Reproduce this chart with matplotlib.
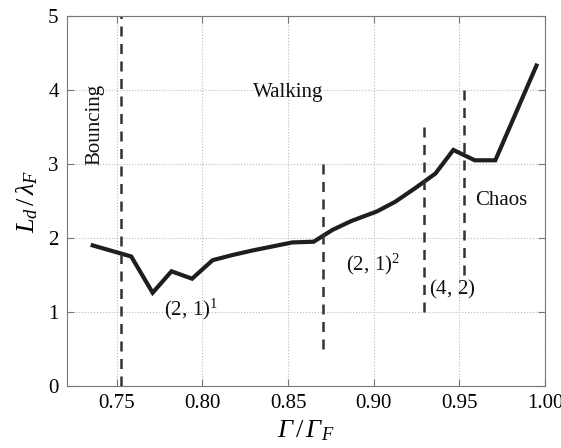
import matplotlib
matplotlib.use("Agg")
import matplotlib.pyplot as plt

plt.rcParams['font.family'] = ['Liberation Serif', 'DejaVu Serif']
plt.rcParams['mathtext.fontset'] = 'custom'
plt.rcParams['mathtext.rm'] = 'Liberation Serif'
plt.rcParams['mathtext.it'] = 'Liberation Serif:italic'
plt.rcParams['mathtext.sf'] = 'Liberation Serif:italic'
plt.rcParams['mathtext.bf'] = 'Liberation Serif:bold'

gamma = [0.736, 0.7585, 0.771, 0.782, 0.794, 0.806, 0.8176, 0.829, 0.8525, 0.865,
         0.876, 0.887, 0.902, 0.9126, 0.924, 0.936, 0.9465, 0.959, 0.971, 0.995]
ld = [1.90, 1.75, 1.26, 1.55, 1.45, 1.70, 1.77, 1.83, 1.94, 1.95,
      2.11, 2.23, 2.36, 2.49, 2.67, 2.87, 3.19, 3.05, 3.05, 4.33]

vline_x = [0.7527, 0.8705, 0.9295, 0.9528]
vline_lo = [0.0, 0.5, 1.0, 1.5]
vline_hi = [5.0, 3.0, 3.5, 4.0]

labels = ['Bouncing', 'Walking', r'$(2,\,1)^1$', r'$(2,\,1)^2$', r'$(4,\,2)$', 'Chaos']
label_x = [0.7372, 0.8295, 0.7779, 0.8837, 0.9325, 0.9595]
label_y = [3.53, 3.97, 1.03, 1.64, 1.30, 2.51]
label_rot = [90, 0, 0, 0, 0, 0]
label_ha = ['center', 'left', 'left', 'left', 'left', 'left']

fig = plt.figure(figsize=(5.61, 4.48), dpi=100)
ax = fig.add_axes([0.1194, 0.1384, 0.8521, 0.8259])

ax.plot(gamma, ld, color='#1e1e1e', lw=3.0, solid_joinstyle='miter')
for x, lo, hi in zip(vline_x, vline_lo, vline_hi):
    ax.plot([x, x], [lo, hi], color='#333333', lw=1.8, ls=(0, (4, 3)))

for t, x, y, r, ha in zip(labels, label_x, label_y, label_rot, label_ha):
    ax.text(x, y, t, rotation=r, ha=ha, va='center', fontsize=15,
            color='#111111')

ax.set_xlim(0.721, 1.0)
ax.set_ylim(0, 5)
ax.set_xticks([0.75, 0.80, 0.85, 0.90, 0.95, 1.00])
ax.set_xticklabels(['0.75', '0.80', '0.85', '0.90', '0.95', '1.00'])
ax.set_yticks([0, 1, 2, 3, 4, 5])
ax.grid(True, ls=':', color='#bbbbbb', lw=0.8)
ax.tick_params(direction='in', top=True, right=True, labelsize=15, length=5,
               color='#777777', pad=6)
for s in ax.spines.values():
    s.set_color('#777777')
ax.set_xlabel(r'$\mathsf{\Gamma}\,/\,\mathsf{\Gamma}_F$', fontsize=19, labelpad=4)
ax.set_ylabel(r'$L_d\,/\,\lambda_F$', fontsize=19, labelpad=6)

fig.savefig('out.png', dpi=100)
